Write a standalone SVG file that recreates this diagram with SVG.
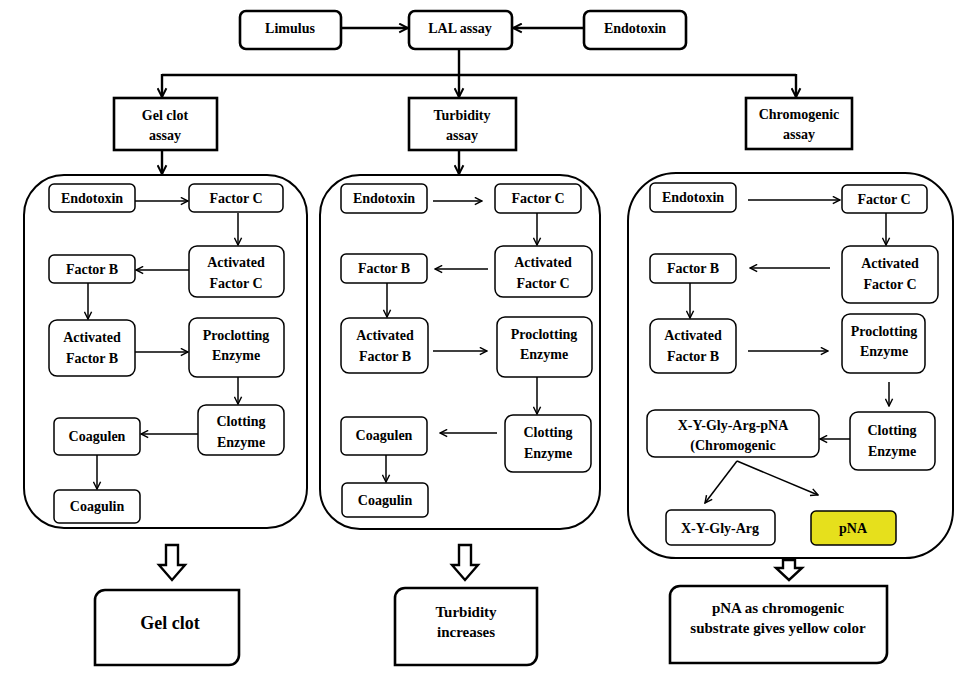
<svg xmlns="http://www.w3.org/2000/svg" width="980" height="675" viewBox="0 0 980 675" font-family="'Liberation Serif', 'Times New Roman', Times, serif">
<defs>
<marker id="a" viewBox="0 0 10 10" refX="9" refY="5" markerWidth="9" markerHeight="9" markerUnits="userSpaceOnUse" orient="auto">
<path d="M1,1 L9,5 L1,9" fill="none" stroke="#000" stroke-width="1.6"/>
</marker>
<marker id="b" viewBox="0 0 10 10" refX="9" refY="5" markerWidth="11" markerHeight="11" markerUnits="userSpaceOnUse" orient="auto">
<path d="M1,1 L9,5 L1,9" fill="none" stroke="#000" stroke-width="1.8"/>
</marker>
</defs>
<style>
text{font-family:'Liberation Serif','Times New Roman',Times,serif;font-weight:bold;font-size:14px;fill:#000;text-anchor:middle}
.top{fill:#fff;stroke:#000;stroke-width:2.6}
.panel{fill:#fff;stroke:#000;stroke-width:2}
.n{fill:#fff;stroke:#000;stroke-width:1.5}
.c{fill:none;stroke:#000;stroke-width:1.5;marker-end:url(#a)}
.ct{fill:none;stroke:#000;stroke-width:2.4;marker-end:url(#b)}
.ln{fill:none;stroke:#000;stroke-width:2.4}
.hollow{fill:#fff;stroke:#000;stroke-width:2.4;stroke-linejoin:miter}
.big{font-size:18px}
.res{font-size:15px}
</style>
<rect width="980" height="675" fill="#fff"/>

<!-- panels -->
<rect id="panel1" class="panel" x="24" y="175" width="283" height="353" rx="40"/>
<rect id="panel2" class="panel" x="320" y="175" width="280" height="354" rx="40"/>
<rect id="panel3" class="panel" x="628" y="173" width="325" height="385" rx="48"/>

<g id="connectors">
<line class="ct" x1="341" y1="28" x2="408" y2="28"/>
<line class="ct" x1="584" y1="28" x2="513" y2="28"/>
<line class="ln" x1="162" y1="75" x2="796" y2="75"/>
<line class="ct" x1="459" y1="49" x2="459" y2="97"/>
<line class="ct" x1="162" y1="74" x2="162" y2="97"/>
<line class="ct" x1="796" y1="74" x2="796" y2="97"/>
<line class="ct" x1="162" y1="150" x2="162" y2="174"/>
<line class="ct" x1="459" y1="150" x2="459" y2="174"/>
<!-- panel 1 -->
<line class="c" x1="135" y1="201" x2="188" y2="201"/>
<line class="c" x1="238" y1="213" x2="238" y2="245"/>
<line class="c" x1="189" y1="270" x2="136" y2="270"/>
<line class="c" x1="88" y1="283" x2="88" y2="319"/>
<line class="c" x1="135" y1="352" x2="188" y2="352"/>
<line class="c" x1="238" y1="377" x2="238" y2="404"/>
<line class="c" x1="198" y1="434" x2="141" y2="434"/>
<line class="c" x1="97" y1="455" x2="97" y2="489"/>
<!-- panel 2 -->
<line class="c" x1="433" y1="201" x2="482" y2="201"/>
<line class="c" x1="537" y1="213" x2="537" y2="245"/>
<line class="c" x1="488" y1="269" x2="435" y2="269"/>
<line class="c" x1="387" y1="283" x2="387" y2="317"/>
<line class="c" x1="433" y1="351" x2="487" y2="351"/>
<line class="c" x1="537" y1="377" x2="537" y2="414"/>
<line class="c" x1="497" y1="433" x2="440" y2="433"/>
<line class="c" x1="386" y1="455" x2="386" y2="482"/>
<!-- panel 3 -->
<line class="c" x1="748" y1="200" x2="840" y2="200"/>
<line class="c" x1="886" y1="213" x2="886" y2="245"/>
<line class="c" x1="830" y1="268" x2="750" y2="268"/>
<line class="c" x1="690" y1="283" x2="690" y2="318"/>
<line class="c" x1="748" y1="351" x2="828" y2="351"/>
<line class="c" x1="889" y1="382" x2="889" y2="406"/>
<line class="c" x1="850" y1="439" x2="820" y2="439"/>
<line class="c" x1="737" y1="461" x2="705" y2="503"/>
<line class="c" x1="737" y1="461" x2="818" y2="495"/>
<!-- hollow arrows -->
<path class="hollow" d="M166,545 H178 V565 H185 L172,580 L159,565 H166 Z"/>
<path class="hollow" d="M459,545 H471 V565 H478 L465,580 L452,565 H459 Z"/>
<path class="hollow" d="M783,560 H795 V568 H802 L789,580 L776,568 H783 Z"/>
</g>

<g id="limulus"><rect class="top" x="240" y="11" width="101" height="38" rx="6"/><text x="290" y="33">Limulus</text></g>
<g id="lal"><rect class="top" x="409" y="11" width="103" height="38" rx="6"/><text x="460" y="33">LAL assay</text></g>
<g id="endotoxin-top"><rect class="top" x="584" y="11" width="102" height="38" rx="6"/><text x="635" y="33">Endotoxin</text></g>

<g id="gelclot-assay"><rect class="top" x="114" y="98" width="103" height="52"/><text x="165" y="120">Gel clot</text><text x="165" y="140">assay</text></g>
<g id="turbidity-assay"><rect class="top" x="409" y="98" width="107" height="52"/><text x="462" y="120">Turbidity</text><text x="462" y="140">assay</text></g>
<g id="chromogenic-assay"><rect class="top" x="746" y="98" width="106" height="51"/><text x="799" y="119">Chromogenic</text><text x="799" y="139">assay</text></g>

<!-- panel 1 nodes -->
<g id="p1-endotoxin"><rect class="n" x="49" y="184" width="86" height="28" rx="5"/><text x="92" y="203">Endotoxin</text></g>
<g id="p1-factorc"><rect class="n" x="189" y="184" width="94" height="28" rx="5"/><text x="236" y="203">Factor C</text></g>
<g id="p1-actc"><rect class="n" x="189" y="246" width="95" height="51" rx="8"/><text x="236" y="267">Activated</text><text x="236" y="288">Factor C</text></g>
<g id="p1-factorb"><rect class="n" x="49" y="255" width="86" height="28" rx="5"/><text x="92" y="274">Factor B</text></g>
<g id="p1-actb"><rect class="n" x="49" y="320" width="86" height="56" rx="8"/><text x="92" y="342">Activated</text><text x="92" y="363">Factor B</text></g>
<g id="p1-procl"><rect class="n" x="189" y="318" width="95" height="59" rx="8"/><text x="236" y="340">Proclotting</text><text x="236" y="360">Enzyme</text></g>
<g id="p1-clot"><rect class="n" x="198" y="405" width="86" height="50" rx="8"/><text x="241" y="426">Clotting</text><text x="241" y="447">Enzyme</text></g>
<g id="p1-coagulen"><rect class="n" x="54" y="418" width="86" height="37" rx="5"/><text x="97" y="441">Coagulen</text></g>
<g id="p1-coagulin"><rect class="n" x="54" y="490" width="86" height="33" rx="5"/><text x="97" y="511">Coagulin</text></g>

<!-- panel 2 nodes -->
<g id="p2-endotoxin"><rect class="n" x="341" y="184" width="86" height="29" rx="5"/><text x="384" y="203">Endotoxin</text></g>
<g id="p2-factorc"><rect class="n" x="495" y="184" width="86" height="29" rx="5"/><text x="538" y="203">Factor C</text></g>
<g id="p2-actc"><rect class="n" x="495" y="246" width="97" height="51" rx="8"/><text x="543" y="267">Activated</text><text x="543" y="288">Factor C</text></g>
<g id="p2-factorb"><rect class="n" x="341" y="254" width="86" height="29" rx="5"/><text x="384" y="273">Factor B</text></g>
<g id="p2-actb"><rect class="n" x="341" y="318" width="87" height="55" rx="8"/><text x="385" y="340">Activated</text><text x="385" y="361">Factor B</text></g>
<g id="p2-procl"><rect class="n" x="497" y="317" width="95" height="60" rx="8"/><text x="544" y="339">Proclotting</text><text x="544" y="359">Enzyme</text></g>
<g id="p2-clot"><rect class="n" x="505" y="415" width="86" height="57" rx="8"/><text x="548" y="437">Clotting</text><text x="548" y="458">Enzyme</text></g>
<g id="p2-coagulen"><rect class="n" x="341" y="417" width="86" height="38" rx="5"/><text x="384" y="440">Coagulen</text></g>
<g id="p2-coagulin"><rect class="n" x="342" y="483" width="86" height="34" rx="5"/><text x="385" y="505">Coagulin</text></g>

<!-- panel 3 nodes -->
<g id="p3-endotoxin"><rect class="n" x="650" y="183" width="86" height="29" rx="5"/><text x="693" y="202">Endotoxin</text></g>
<g id="p3-factorc"><rect class="n" x="842" y="185" width="85" height="28" rx="5"/><text x="884" y="204">Factor C</text></g>
<g id="p3-actc"><rect class="n" x="842" y="246" width="96" height="57" rx="8"/><text x="890" y="268">Activated</text><text x="890" y="289">Factor C</text></g>
<g id="p3-factorb"><rect class="n" x="650" y="254" width="86" height="29" rx="5"/><text x="693" y="273">Factor B</text></g>
<g id="p3-actb"><rect class="n" x="650" y="319" width="86" height="54" rx="8"/><text x="693" y="340">Activated</text><text x="693" y="361">Factor B</text></g>
<g id="p3-procl"><rect class="n" x="842" y="314" width="83" height="59" rx="8"/><text x="884" y="336">Proclotting</text><text x="884" y="356">Enzyme</text></g>
<g id="p3-substrate"><rect class="n" x="647" y="410" width="172" height="47" rx="8"/><text x="733" y="430">X-Y-Gly-Arg-pNA</text><text x="733" y="450">(Chromogenic</text></g>
<g id="p3-clot"><rect class="n" x="850" y="412" width="85" height="58" rx="8"/><text x="892" y="435">Clotting</text><text x="892" y="456">Enzyme</text></g>
<g id="p3-xygly"><rect class="n" x="666" y="510" width="109" height="35" rx="5"/><text x="720" y="533">X-Y-Gly-Arg</text></g>
<g id="p3-pna"><rect x="811" y="511" width="85" height="34" rx="5" fill="#e6e01c" stroke="#000" stroke-width="1.5"/><text x="853" y="533">pNA</text></g>

<!-- results -->
<g id="res-gelclot"><path class="top" d="M105,590 H239 V655 A10,10 0 0 1 229,665 H95 V600 A10,10 0 0 1 105,590 Z"/><text class="big" x="170" y="629">Gel clot</text></g>
<g id="res-turbidity"><path class="top" d="M405,588 H537 V655 A10,10 0 0 1 527,665 H395 V598 A10,10 0 0 1 405,588 Z"/><text class="res" x="466" y="617">Turbidity</text><text class="res" x="466" y="637">increases</text></g>
<g id="res-pna"><path class="top" d="M680,586 H887 V653 A10,10 0 0 1 877,663 H670 V596 A10,10 0 0 1 680,586 Z"/><text class="res" x="778" y="613">pNA as chromogenic</text><text class="res" x="778" y="633">substrate gives yellow color</text></g>
</svg>
